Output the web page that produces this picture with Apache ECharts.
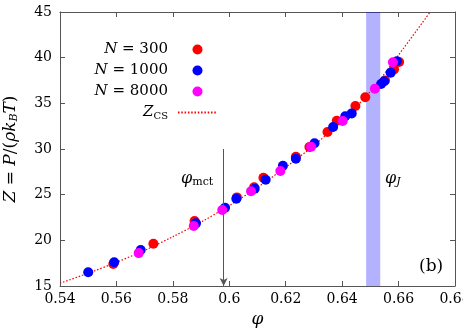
<!DOCTYPE html>
<html>
<head>
<meta charset="utf-8">
<script src="https://cdn.jsdelivr.net/npm/echarts@6/dist/echarts.min.js"></script>
<style>
  html, body { margin: 0; padding: 0; background: #fff; }
  #main { width: 463px; height: 329px; }
</style>
</head>
<body>
<div id="main"></div>
<script>
// N = 300 (red)
const phi300 = [0.5589, 0.5731, 0.5877, 0.6027, 0.6088, 0.6121, 0.6236, 0.6284, 0.6348, 0.6381, 0.6447, 0.6482, 0.6552, 0.6584, 0.6602];
const z300 = [17.4, 19.63, 22.12, 24.7, 25.8, 26.86, 29.16, 30.22, 31.86, 33.1, 34.71, 35.66, 37.5, 38.72, 39.53];
// N = 1000 (blue)
const phi1000 = [0.5500, 0.5592, 0.5686, 0.5882, 0.5985, 0.6025, 0.6090, 0.6129, 0.6190, 0.6236, 0.6302, 0.6368, 0.6411, 0.6434, 0.6538, 0.6549, 0.6572, 0.6594];
const z1000 = [16.5, 17.6, 18.94, 21.86, 23.57, 24.56, 25.65, 26.64, 28.17, 28.94, 30.62, 32.41, 33.58, 33.9, 37.12, 37.41, 38.36, 39.6];
// N = 8000 (magenta)
const phi8000 = [0.5679, 0.5874, 0.5975, 0.6077, 0.6181, 0.6290, 0.6402, 0.6516, 0.6580];
const z8000 = [18.6, 21.57, 23.32, 25.37, 27.59, 30.25, 33.07, 36.6, 39.49];
// Z_CS curve
const phiCS = [0.54, 0.55, 0.56, 0.57, 0.58, 0.59, 0.60, 0.61, 0.62, 0.63, 0.64, 0.65, 0.66, 0.6712];
const zCS = [15.3, 16.4, 17.6, 18.9, 20.4, 22.0, 23.8, 25.8, 28.0, 30.4, 33.1, 36.3, 40.3, 45.0];
// markers
const phiMct = 0.598;
const phiJ = [0.6485, 0.6535];
const xTicks = { min: 0.54, max: 0.68, step: 0.02 };
const yTicks = { min: 15, max: 45, step: 5 };

const pairs = (xs, ys) => xs.map((x, i) => [x, ys[i]]);
const font = "DejaVu Serif";
const axisColor = "#555";

const chart = echarts.init(document.getElementById("main"));

const baseX = {
  type: "value",
  min: xTicks.min,
  max: xTicks.max,
  interval: xTicks.step,
  splitLine: { show: false },
  axisLine: { lineStyle: { color: axisColor, width: 1 } },
  axisTick: { inside: true, length: 5, lineStyle: { color: axisColor } },
};
const baseY = {
  type: "value",
  min: yTicks.min,
  max: yTicks.max,
  interval: yTicks.step,
  splitLine: { show: false },
  axisLine: { lineStyle: { color: axisColor, width: 1 } },
  axisTick: { inside: true, length: 5, lineStyle: { color: axisColor } },
};

const names = { r: "N300", b: "N1000", m: "N8000", cs: "ZCS" };
const legendText = {
  N300: "{i|N}{n| = 300}",
  N1000: "{i|N}{n| = 1000}",
  N8000: "{i|N}{n| = 8000}",
  ZCS: "{i|Z}{s|CS}",
};

chart.setOption({
  animation: false,
  grid: { left: 60, right: 8, top: 12, bottom: 43, containLabel: false, outerBoundsMode: "none" },
  xAxis: [
    Object.assign({}, baseX, {
      position: "bottom",
      name: "φ",
      nameLocation: "middle",
      nameGap: 23,
      nameTextStyle: { fontFamily: font, fontStyle: "italic", fontSize: 17, color: "#000" },
      axisLabel: { fontFamily: font, fontSize: 14, color: "#000", margin: 6 },
    }),
    Object.assign({}, baseX, { position: "top", axisLabel: { show: false } }),
  ],
  yAxis: [
    Object.assign({}, baseY, {
      position: "left",
      name: "{i|Z} = {i|P}/({i|ρk}{s|B}{i|T})",
      nameLocation: "middle",
      nameGap: 40,
      nameRotate: 90,
      nameTextStyle: {
        fontFamily: font, fontSize: 17, color: "#000",
        rich: {
          i: { fontFamily: font, fontStyle: "italic", fontSize: 17, color: "#000" },
          s: { fontFamily: font, fontStyle: "italic", fontSize: 11, color: "#000", padding: [7, 0, 0, 0] },
        },
      },
      axisLabel: { fontFamily: font, fontSize: 14, color: "#000", margin: 8 },
    }),
    Object.assign({}, baseY, { position: "right", axisLabel: { show: false } }),
  ],
  legend: {
    orient: "vertical",
    left: 88,
    top: 39,
    padding: 0,
    align: "right",
    itemWidth: 39,
    itemHeight: 10,
    itemGap: 0,
    data: [
      names.r,
      names.b,
      names.m,
      { name: names.cs, itemStyle: { color: "rgba(0,0,0,0)", opacity: 0, borderWidth: 0 } },
    ],
    formatter: (n) => legendText[n],
    textStyle: {
      width: 80,
      lineHeight: 21,
      padding: [0, 5, 0, 0],
      fontFamily: font,
      fontSize: 15,
      color: "#000",
      rich: {
        i: { fontFamily: font, fontStyle: "italic", fontSize: 15, color: "#000", align: "right" },
        n: { fontFamily: font, fontSize: 15, color: "#000", align: "right" },
        s: { fontFamily: font, fontSize: 10, color: "#000", align: "right", padding: [7, 0, 0, 0] },
      },
    },
  },
  graphic: [
    {
      type: "text",
      left: 181,
      top: 171,
      style: {
        text: "{i|φ}{s|mct}",
        rich: {
          i: { fontFamily: font, fontStyle: "italic", fontSize: 16, fill: "#000" },
          s: { fontFamily: font, fontSize: 11, fill: "#000", padding: [6, 0, 0, 0] },
        },
      },
    },
    {
      type: "text",
      left: 385,
      top: 171,
      style: {
        text: "{i|φ}{s|J}",
        rich: {
          i: { fontFamily: font, fontStyle: "italic", fontSize: 16, fill: "#000" },
          s: { fontFamily: font, fontStyle: "italic", fontSize: 11, fill: "#000", padding: [6, 0, 0, 0] },
        },
      },
    },
    {
      type: "text",
      left: 419,
      top: 258,
      style: { text: "(b)", fontFamily: font, fontSize: 17, fill: "#000" },
    },
  ],
  series: [
    {
      name: "band",
      type: "line",
      data: [],
      z: 1,
      markArea: {
        silent: true,
        itemStyle: { color: "rgba(0,0,255,0.3)" },
        data: [[{ xAxis: phiJ[0] }, { xAxis: phiJ[1] }]],
      },
      markLine: {
        silent: true,
        symbol: ["none", "arrow"],
        symbolSize: [6, 8],
        label: { show: false },
        lineStyle: { color: "#555", width: 1, type: "solid" },
        data: [[{ coord: [phiMct, 30.0] }, { coord: [phiMct, yTicks.min] }]],
      },
    },
    {
      name: names.cs,
      type: "line",
      data: pairs(phiCS, zCS),
      smooth: 0.3,
      symbol: "none",
      z: 2,
      itemStyle: { color: "#ff0000" },
      lineStyle: { color: "#ff0000", width: 1.2, type: [1.5, 1.8] },
    },
    {
      name: names.r,
      type: "scatter",
      data: pairs(phi300, z300),
      symbolSize: 10,
      z: 3,
      itemStyle: { color: "#ff0000", opacity: 1 },
    },
    {
      name: names.b,
      type: "scatter",
      data: pairs(phi1000, z1000),
      symbolSize: 10,
      z: 4,
      itemStyle: { color: "#0000ff", opacity: 1 },
    },
    {
      name: names.m,
      type: "scatter",
      data: pairs(phi8000, z8000),
      symbolSize: 10,
      z: 5,
      itemStyle: { color: "#ff00ff", opacity: 1 },
    },
  ],
});
</script>
</body>
</html>
